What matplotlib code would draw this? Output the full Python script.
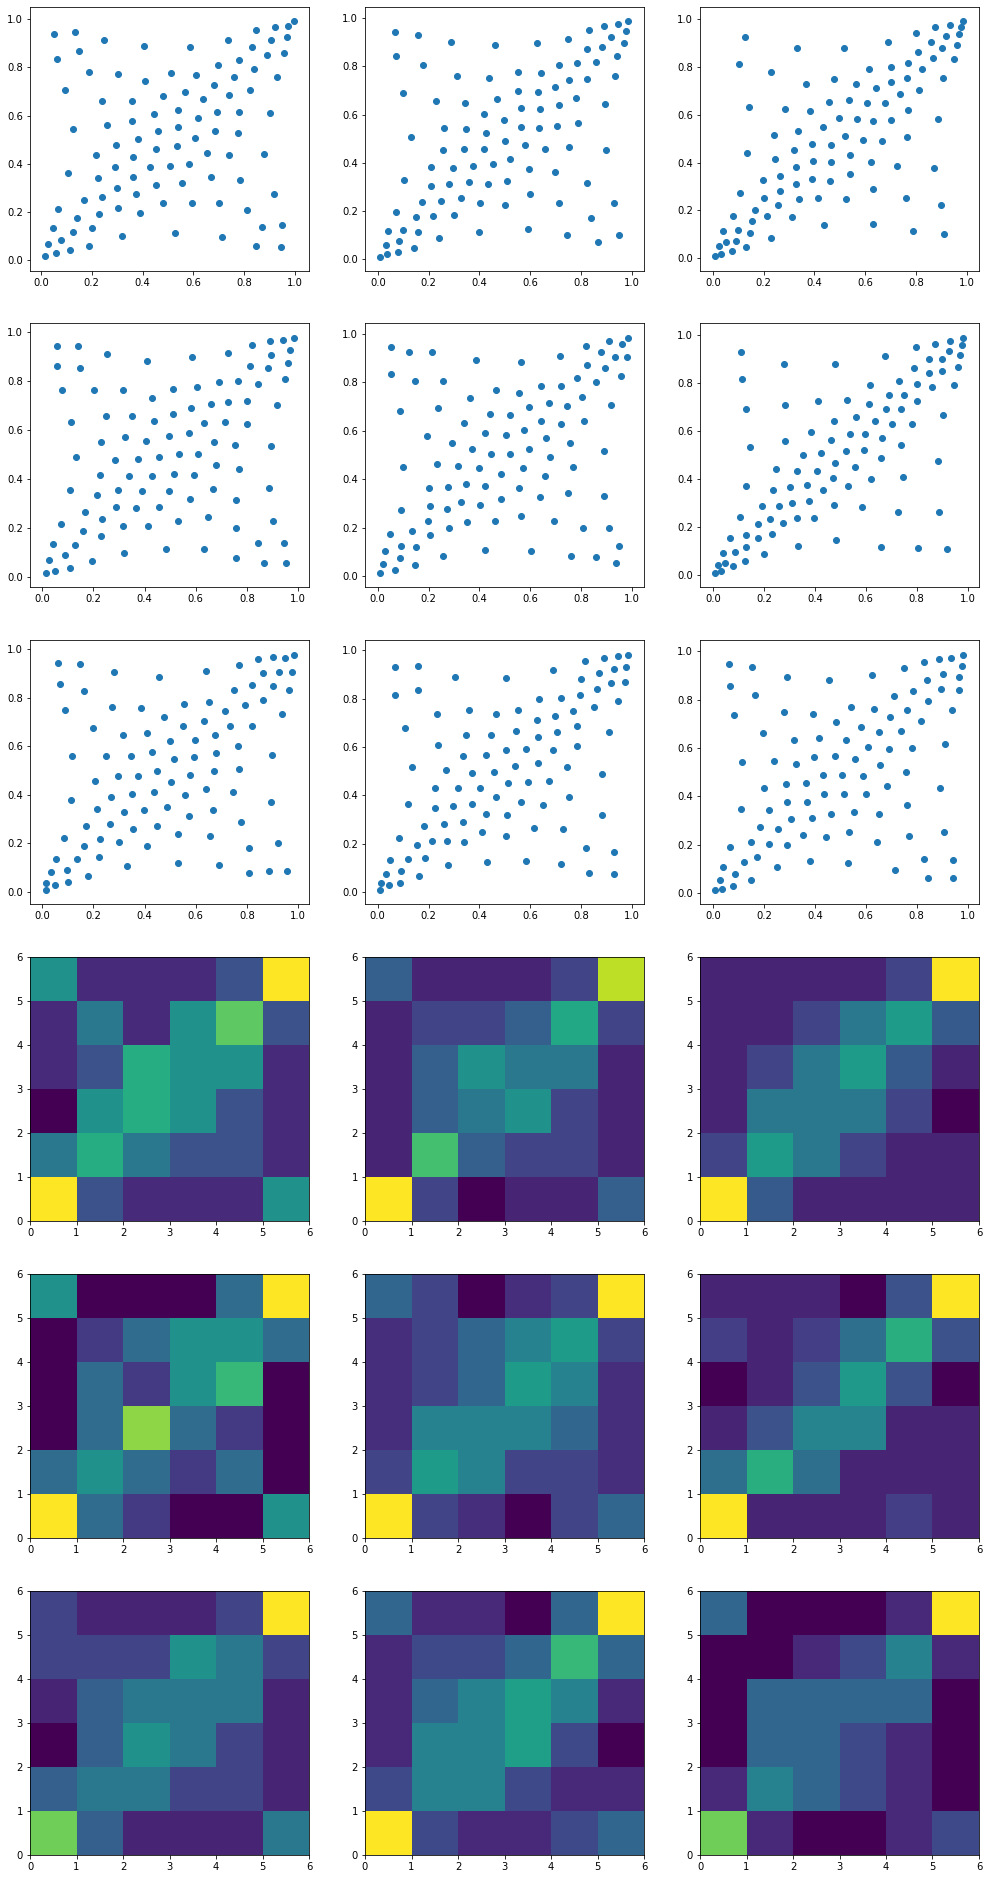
import numpy as np
import matplotlib
matplotlib.use('Agg')
import matplotlib.pyplot as plt

# points (x, y)
points1 = [(.051,.938),(.134,.946),(.248,.913),(.406,.888),(.587,.884),(.736,.913),(.846,.954),(.921,.967),(.972,.971),(.996,.992),
(.969,.925),(.906,.913),(.831,.884),(.150,.867),(.957,.859),(.063,.834),(.890,.851),(.780,.830),(.697,.809),(.839,.793),
(.189,.780),(.303,.772),(.512,.776),(.610,.768),(.760,.759),(.929,.759),(.409,.743),(.681,.726),(.094,.705),(.567,.697),
(.823,.705),(.480,.680),(.740,.685),(.638,.668),(.240,.660),(.358,.660),(.539,.622),(.693,.614),(.780,.614),(.902,.610),
(.445,.606),(.618,.589),(.358,.577),(.260,.560),(.539,.552),(.126,.544),(.461,.535),(.685,.535),(.776,.527),(.382,.502),
(.606,.506),(.295,.477),(.535,.473),(.453,.461),(.654,.444),(.217,.436),(.740,.436),(.878,.440),(.362,.427),(.583,.398),
(.508,.390),(.291,.386),(.429,.386),(.106,.361),(.669,.344),(.224,.340),(.362,.344),(.783,.332),(.555,.320),(.453,.311),
(.299,.299),(.374,.274),(.917,.274),(.169,.249),(.240,.261),(.480,.237),(.594,.237),(.701,.237),(.067,.212),(.303,.216),
(.811,.207),(.228,.191),(.390,.195),(.142,.174),(.047,.133),(.201,.133),(.126,.116),(.870,.137),(.949,.145),(.528,.112),
(.319,.100),(.713,.095),(.079,.083),(.028,.066),(.114,.041),(.189,.058),(.846,.058),(.945,.054),(.059,.029),(.016,.017)]

points2 = [(.068,.942),(.159,.929),(.289,.900),(.462,.888),(.627,.896),(.749,.913),(.832,.950),(.891,.967),(.946,.975),(.986,.988),
(.978,.946),(.919,.921),(.970,.896),(.883,.880),(.824,.871),(.072,.842),(.942,.842),(.860,.817),(.785,.813),(.714,.805),
(.178,.805),(.552,.776),(.643,.772),(.312,.759),(.934,.759),(.438,.751),(.824,.747),(.753,.743),(.698,.714),(.552,.697),
(.631,.693),(.100,.689),(.781,.668),(.470,.664),(.230,.656),(.344,.647),(.714,.639),(.895,.643),(.564,.627),(.639,.622),
(.419,.602),(.497,.577),(.789,.567),(.707,.554),(.261,.544),(.348,.539),(.564,.548),(.635,.544),(.428,.523),(.131,.506),
(.501,.490),(.580,.473),(.753,.465),(.257,.452),(.340,.456),(.419,.456),(.659,.456),(.899,.452),(.521,.415),(.454,.394),
(.375,.386),(.210,.382),(.297,.378),(.596,.373),(.698,.361),(.104,.328),(.509,.324),(.360,.320),(.281,.311),(.434,.311),
(.210,.303),(.824,.315),(.600,.270),(.328,.253),(.175,.237),(.249,.241),(.403,.232),(.714,.232),(.930,.232),(.501,.224),
(.072,.195),(.151,.174),(.218,.178),(.301,.183),(.840,.170),(.592,.124),(.041,.116),(.100,.120),(.159,.112),(.399,.112),
(.745,.100),(.950,.100),(.241,.087),(.084,.075),(.033,.058),(.143,.046),(.867,.071),(.037,.021),(.080,.029),(.009,.012)]

points3 = [(.126,.925),(.331,.879),(.516,.879),(.690,.904),(.800,.941),(.875,.967),(.934,.975),(.978,.967),(.986,.992),(.970,.937),
(.919,.929),(.859,.904),(.962,.891),(.903,.879),(.808,.862),(.950,.833),(.867,.837),(.769,.816),(.102,.812),(.702,.799),
(.615,.791),(.824,.791),(.229,.778),(.477,.749),(.765,.753),(.907,.753),(.702,.736),(.367,.728),(.564,.728),(.643,.711),
(.812,.703),(.737,.686),(.536,.661),(.457,.653),(.607,.649),(.678,.649),(.142,.632),(.284,.623),(.382,.615),(.769,.619),
(.497,.586),(.568,.582),(.631,.573),(.702,.577),(.887,.582),(.434,.548),(.335,.531),(.240,.515),(.520,.510),(.765,.506),
(.591,.494),(.666,.490),(.390,.477),(.465,.473),(.319,.452),(.134,.439),(.540,.431),(.244,.414),(.394,.406),(.465,.402),
(.623,.402),(.725,.385),(.327,.381),(.871,.377),(.540,.351),(.264,.343),(.197,.326),(.390,.331),(.461,.322),(.327,.310),
(.264,.280),(.106,.272),(.631,.289),(.201,.251),(.339,.247),(.414,.251),(.524,.247),(.761,.251),(.256,.222),(.899,.222),
(.166,.201),(.079,.176),(.213,.176),(.311,.172),(.154,.155),(.438,.138),(.631,.142),(.039,.113),(.099,.117),(.788,.113),
(.146,.105),(.911,.100),(.229,.084),(.051,.067),(.091,.071),(.024,.050),(.130,.046),(.075,.029),(.032,.017),(.008,.008)]

points4 = [(.059,.943),(.140,.943),(.254,.910),(.410,.882),(.585,.898),(.726,.914),(.819,.947),(.889,.963),(.940,.967),(.983,.976),
(.967,.927),(.893,.906),(.059,.861),(.148,.853),(.811,.861),(.882,.853),(.960,.873),(.948,.808),(.843,.788),(.690,.796),
(.765,.800),(.078,.763),(.203,.763),(.316,.763),(.511,.767),(.605,.776),(.429,.731),(.800,.718),(.726,.714),(.659,.706),
(.917,.702),(.581,.690),(.511,.665),(.250,.657),(.351,.657),(.437,.637),(.714,.633),(.113,.633),(.632,.629),(.800,.624),
(.573,.588),(.495,.576),(.324,.571),(.406,.555),(.671,.551),(.230,.551),(.753,.539),(.893,.535),(.534,.502),(.609,.502),
(.456,.490),(.133,.490),(.285,.478),(.375,.482),(.679,.457),(.769,.441),(.226,.416),(.339,.412),(.429,.412),(.515,.420),
(.593,.416),(.886,.363),(.667,.359),(.109,.355),(.296,.355),(.390,.351),(.495,.351),(.215,.335),(.577,.318),(.757,.314),
(.289,.286),(.367,.282),(.456,.286),(.168,.265),(.648,.245),(.234,.237),(.531,.229),(.901,.229),(.074,.216),(.316,.208),
(.414,.208),(.757,.200),(.160,.188),(.230,.167),(.043,.135),(.129,.131),(.843,.139),(.944,.139),(.484,.114),(.632,.114),
(.320,.098),(.090,.090),(.757,.078),(.027,.069),(.195,.065),(.109,.037),(.866,.057),(.952,.057),(.051,.024),(.016,.016)]

points5 = [(.054,.946),(.125,.926),(.215,.926),(.388,.893),(.565,.884),(.718,.909),(.820,.950),(.911,.971),(.986,.983),(.962,.959),
(.879,.926),(.934,.905),(.982,.905),(.824,.872),(.895,.860),(.054,.835),(.958,.827),(.785,.818),(.148,.806),(.258,.806),
(.860,.802),(.644,.785),(.722,.785),(.467,.769),(.557,.757),(.805,.740),(.364,.736),(.675,.715),(.919,.707),(.746,.703),
(.239,.695),(.596,.697),(.089,.682),(.443,.670),(.522,.666),(.644,.641),(.813,.641),(.341,.633),(.722,.629),(.577,.604),
(.423,.591),(.506,.583),(.195,.579),(.663,.571),(.294,.550),(.758,.550),(.372,.525),(.596,.525),(.891,.517),(.447,.505),
(.522,.505),(.679,.492),(.235,.464),(.317,.455),(.101,.451),(.400,.447),(.573,.447),(.769,.451),(.486,.422),(.659,.414),
(.349,.381),(.423,.373),(.203,.365),(.278,.369),(.557,.365),(.750,.344),(.640,.327),(.891,.332),(.486,.319),(.329,.307),
(.207,.290),(.404,.294),(.274,.278),(.093,.274),(.565,.249),(.199,.228),(.353,.224),(.463,.228),(.695,.228),(.282,.199),
(.809,.199),(.911,.199),(.136,.187),(.050,.175),(.207,.171),(.030,.105),(.093,.125),(.152,.121),(.950,.125),(.423,.109),
(.604,.105),(.258,.084),(.761,.084),(.860,.080),(.089,.076),(.022,.051),(.938,.055),(.148,.047),(.069,.026),(.010,.014)]

points6 = [(.110,.929),(.279,.879),(.479,.879),(.675,.912),(.797,.950),(.872,.963),(.931,.975),(.982,.988),(.978,.958),(.927,.933),
(.970,.917),(.848,.900),(.899,.900),(.789,.863),(.962,.867),(.848,.842),(.899,.850),(.114,.817),(.730,.808),(.801,.796),
(.616,.792),(.946,.792),(.860,.783),(.691,.750),(.750,.750),(.412,.725),(.526,.729),(.801,.725),(.613,.712),(.283,.708),
(.130,.692),(.679,.692),(.738,.692),(.903,.667),(.562,.658),(.475,.642),(.636,.642),(.703,.629),(.781,.629),(.385,.596),
(.538,.587),(.597,.587),(.664,.571),(.463,.563),(.283,.558),(.738,.542),(.145,.533),(.522,.517),(.593,.521),(.424,.508),
(.353,.500),(.660,.488),(.884,.475),(.479,.467),(.558,.450),(.247,.442),(.330,.433),(.408,.433),(.746,.408),(.471,.404),
(.620,.400),(.130,.371),(.369,.375),(.530,.371),(.302,.367),(.236,.354),(.432,.354),(.310,.300),(.377,.308),(.192,.288),
(.259,.288),(.475,.292),(.585,.283),(.726,.263),(.887,.263),(.106,.242),(.224,.233),(.330,.238),(.397,.238),(.177,.213),
(.275,.217),(.232,.171),(.130,.167),(.177,.154),(.067,.154),(.483,.146),(.039,.092),(.130,.117),(.334,.121),(.660,.117),
(.805,.113),(.919,.108),(.086,.096),(.200,.088),(.126,.058),(.047,.050),(.020,.042),(.079,.038),(.031,.017),(.008,.008)]

points7 = [(.062,.942),(.148,.938),(.281,.905),(.456,.885),(.640,.909),(.769,.934),(.843,.959),(.901,.967),(.948,.963),(.983,.975),
(.925,.905),(.862,.901),(.975,.905),(.070,.856),(.819,.852),(.901,.848),(.749,.831),(.964,.831),(.164,.827),(.862,.790),
(.554,.774),(.652,.782),(.792,.770),(.273,.761),(.386,.757),(.090,.749),(.714,.745),(.936,.733),(.476,.720),(.632,.704),
(.550,.683),(.733,.683),(.819,.683),(.199,.675),(.410,.654),(.316,.646),(.675,.646),(.597,.625),(.499,.621),(.765,.601),
(.429,.576),(.897,.564),(.117,.560),(.250,.560),(.347,.560),(.593,.556),(.679,.572),(.515,.547),(.769,.506),(.449,.498),
(.671,.498),(.577,.481),(.296,.477),(.375,.477),(.207,.457),(.503,.453),(.640,.424),(.437,.412),(.745,.412),(.351,.403),
(.558,.399),(.269,.391),(.113,.379),(.893,.370),(.488,.350),(.215,.342),(.398,.337),(.667,.337),(.320,.329),(.573,.313),
(.265,.280),(.776,.288),(.172,.272),(.449,.272),(.355,.259),(.531,.239),(.655,.230),(.086,.222),(.226,.218),(.300,.206),
(.921,.202),(.164,.189),(.410,.189),(.808,.181),(.222,.144),(.055,.136),(.137,.136),(.332,.107),(.531,.119),(.691,.111),
(.098,.091),(.035,.082),(.886,.086),(.956,.086),(.808,.078),(.179,.066),(.101,.041),(.016,.037),(.051,.029),(.016,.008)]

points8 = [(.069,.930),(.160,.934),(.305,.888),(.506,.884),(.691,.917),(.817,.955),(.891,.967),(.946,.975),(.986,.979),(.978,.930),
(.931,.921),(.872,.905),(.801,.880),(.919,.864),(.974,.868),(.160,.835),(.864,.839),(.069,.814),(.797,.814),(.636,.798),
(.722,.802),(.946,.789),(.852,.764),(.769,.748),(.360,.752),(.553,.752),(.235,.736),(.467,.736),(.699,.727),(.628,.711),
(.785,.686),(.109,.678),(.545,.665),(.706,.661),(.911,.661),(.349,.649),(.447,.649),(.632,.641),(.239,.607),(.785,.603),
(.506,.587),(.585,.591),(.691,.587),(.337,.562),(.427,.566),(.632,.533),(.541,.521),(.746,.517),(.136,.517),(.270,.504),
(.372,.492),(.459,.496),(.883,.488),(.675,.459),(.592,.455),(.514,.450),(.227,.430),(.317,.430),(.404,.430),(.467,.393),
(.754,.393),(.565,.372),(.121,.364),(.372,.364),(.651,.360),(.298,.355),(.227,.347),(.427,.322),(.510,.318),(.883,.318),
(.337,.289),(.262,.281),(.183,.273),(.616,.264),(.730,.260),(.412,.248),(.506,.231),(.085,.223),(.215,.211),(.274,.211),
(.341,.207),(.156,.194),(.820,.182),(.931,.165),(.187,.140),(.050,.132),(.121,.136),(.585,.128),(.431,.124),(.722,.116),
(.278,.112),(.093,.087),(.034,.074),(.832,.079),(.931,.074),(.164,.066),(.089,.037),(.014,.037),(.046,.029),(.010,.008)]

points9 = [(.063,.946),(.153,.934),(.291,.893),(.455,.880),(.624,.901),(.750,.930),(.829,.955),(.887,.967),(.935,.971),(.982,.983),
(.978,.938),(.903,.905),(.966,.893),(.840,.880),(.067,.856),(.895,.843),(.966,.839),(.785,.835),(.711,.814),(.165,.818),
(.844,.794),(.542,.769),(.632,.761),(.762,.757),(.938,.757),(.279,.748),(.393,.740),(.082,.736),(.695,.728),(.483,.707),
(.817,.711),(.581,.686),(.652,.666),(.738,.670),(.196,.662),(.416,.641),(.318,.633),(.522,.633),(.911,.616),(.609,.604),
(.691,.596),(.781,.600),(.479,.567),(.397,.563),(.558,.554),(.240,.546),(.114,.542),(.326,.534),(.656,.530),(.758,.501),
(.432,.488),(.507,.488),(.589,.484),(.365,.455),(.287,.451),(.683,.443),(.200,.435),(.891,.435),(.436,.410),(.514,.410),
(.601,.410),(.291,.377),(.369,.377),(.762,.365),(.110,.348),(.220,.344),(.554,.336),(.463,.327),(.652,.327),(.306,.307),
(.389,.311),(.185,.274),(.255,.265),(.534,.253),(.907,.253),(.353,.241),(.444,.232),(.770,.237),(.149,.212),(.644,.212),
(.220,.204),(.291,.199),(.067,.191),(.173,.150),(.829,.142),(.942,.138),(.122,.129),(.381,.133),(.530,.125),(.251,.109),
(.039,.109),(.715,.096),(.086,.080),(.844,.063),(.942,.063),(.027,.055),(.149,.055),(.079,.030),(.035,.018),(.008,.014)]

# heatmap cells, rows listed from top (y=5..6) to bottom (y=0..1)
cells1 = [[.5,.12,.12,.12,.25,1],[.12,.4,.12,.5,.75,.25],[.12,.25,.62,.5,.5,.12],[0,.5,.62,.5,.25,.12],[.4,.62,.4,.25,.25,.12],[1,.25,.12,.12,.12,.5]]
cells2 = [[.3,.1,.1,.1,.2,.9],[.1,.2,.2,.3,.6,.2],[.1,.3,.5,.4,.4,.1],[.1,.3,.4,.5,.2,.1],[.1,.7,.3,.2,.2,.1],[1,.2,0,.1,.1,.3]]
cells3 = [[.1,.1,.1,.1,.2,1],[.1,.1,.2,.4,.55,.28],[.1,.2,.4,.55,.28,.1],[.1,.4,.4,.4,.2,0],[.2,.55,.4,.2,.1,.1],[1,.28,.1,.1,.1,.1]]
cells4 = [[.5,0,0,0,.35,1],[0,.17,.35,.5,.5,.35],[0,.35,.17,.5,.67,0],[0,.35,.83,.35,.17,0],[.35,.5,.35,.17,.35,0],[1,.35,.17,0,0,.5]]
cells5 = [[.33,.2,0,.13,.2,1],[.13,.2,.33,.44,.55,.2],[.13,.2,.33,.55,.44,.13],[.13,.44,.44,.44,.33,.13],[.2,.55,.44,.2,.2,.13],[1,.2,.13,0,.2,.33]]
cells6 = [[.1,.1,.1,0,.25,1],[.18,.1,.18,.36,.63,.25],[0,.1,.25,.54,.25,0],[.1,.25,.45,.45,.1,.1],[.36,.63,.36,.1,.1,.1],[1,.1,.1,.1,.18,.1]]
cells7 = [[.2,.1,.1,.1,.2,1],[.2,.2,.2,.5,.4,.2],[.1,.3,.4,.4,.4,.1],[0,.3,.5,.4,.2,.1],[.3,.4,.4,.2,.2,.1],[.78,.3,.1,.1,.1,.4]]
cells8 = [[.33,.11,.11,0,.33,1],[.11,.22,.22,.33,.67,.33],[.11,.33,.44,.56,.44,.11],[.11,.44,.44,.56,.22,0],[.22,.44,.44,.22,.11,.11],[1,.22,.11,.11,.22,.33]]
cells9 = [[.33,0,0,0,.11,1],[0,0,.11,.22,.44,.11],[0,.33,.33,.33,.33,0],[0,.33,.33,.22,.11,0],[.11,.44,.33,.22,.11,0],[.78,.11,0,0,.11,.22]]

all_points = [points1, points2, points3, points4, points5, points6, points7, points8, points9]
all_cells = [cells1, cells2, cells3, cells4, cells5, cells6, cells7, cells8, cells9]

# axis limits of the scatter panels, taken from the tick positions
x_limits = [(-.043,1.055),(-.051,1.049),(-.051,1.048),(-.047,1.042),(-.050,1.048),(-.051,1.045),(-.047,1.042),(-.050,1.048),(-.051,1.045)]
y_limits = [(-.044,1.050),(-.048,1.046),(-.053,1.050),(-.041,1.037),(-.044,1.045),(-.050,1.050),(-.049,1.037),(-.050,1.042),(-.044,1.046)]

W, H = 989, 1879
lefts = [30, 365, 700]
tops = [7, 323, 640, 957, 1274, 1591]
ax_w, ax_h = 279, 264

fig = plt.figure(figsize=(W / 72, H / 72), dpi=72)


def make_axes(row, col):
    return fig.add_axes([lefts[col] / W, 1 - (tops[row] + ax_h) / H, ax_w / W, ax_h / H])


# scatter panels
for i, pts in enumerate(all_points):
    ax = make_axes(i // 3, i % 3)
    arr = np.array(pts)
    ax.scatter(arr[:, 0], arr[:, 1])
    ax.set_xlim(x_limits[i])
    ax.set_ylim(y_limits[i])

# 2D histogram panels
for i, cells in enumerate(all_cells):
    ax = make_axes(3 + i // 3, i % 3)
    ax.pcolormesh(np.array(cells)[::-1], cmap='viridis', vmin=0, vmax=1)

fig.savefig('out.png', dpi=72)
